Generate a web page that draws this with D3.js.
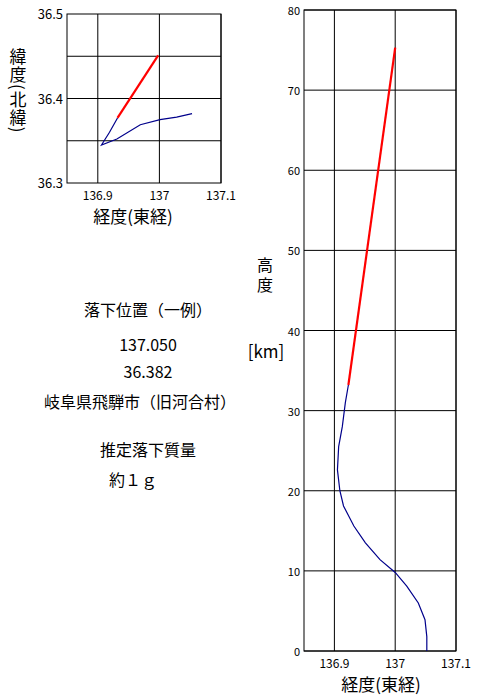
<!DOCTYPE html><html><head><meta charset="utf-8">
<script src="https://cdn.jsdelivr.net/npm/d3@7"></script>
<style>body{margin:0;background:#fff}text{font-family:"Noto Sans CJK JP",sans-serif}</style></head><body>
<svg id="c" width="480" height="700"></svg>
<script>
const lonTicks=[136.9,137,137.1];
const latTicks=[36.3,36.4,36.5];
const latGrid=[36.35,36.4,36.45];
const altTicks=[0,10,20,30,40,50,60,70,80];
// trajectory: longitude, latitude (map) ; longitude, altitude (profile)
const mapRedLon=[136.932,136.998];
const mapRedLat=[36.377,36.451];
const mapBlueLon=[136.932,136.919,136.906,136.931,136.969,137.001,137.028,137.053];
const mapBlueLat=[36.377,36.360,36.345,36.352,36.369,36.375,36.378,36.382];
const profRedLon=[136.923,137.0];
const profRedAlt=[33.2,75.3];
const profBlueLon=[136.923,136.918,136.913,136.907,136.905,136.909,136.915,136.932,136.951,136.975,137.0,137.019,137.038,137.049,137.052,137.052];
const profBlueAlt=[33.2,31,28,25.5,22.6,20,18.1,15.6,13.5,11.4,9.8,8.1,6.0,3.9,1.8,0];
const infoLines=["落下位置（一例）","137.050","36.382","岐阜県飛騨市（旧河合村）","推定落下質量","約１ｇ"];
const infoY=[310,345,372,402,450,480];

const svg=d3.select("#c");
function grid(g,x,y,xt,yt,ygrid,fmtY,fs){
  const [x0,x1]=x.range(),[y0,y1]=y.range();
  xt.forEach(t=>g.append("line").attr("x1",x(t)).attr("x2",x(t)).attr("y1",y0).attr("y2",y1).attr("stroke","#000"));
  ygrid.forEach(t=>g.append("line").attr("x1",x0).attr("x2",x1).attr("y1",y(t)).attr("y2",y(t)).attr("stroke","#000"));
  g.append("rect").attr("x",x0).attr("y",y1).attr("width",x1-x0).attr("height",y0-y1).attr("fill","none").attr("stroke","#000");
  xt.forEach(t=>g.append("text").attr("x",x(t)).attr("y",y0+17).attr("text-anchor","middle").attr("font-size",12).text(d3.format("")(t)));
  yt.forEach(t=>g.append("text").attr("x",x0-4).attr("y",y(t)+5).attr("text-anchor","end").attr("font-size",fs).text(fmtY(t)));
}
const line=(xs,ys,sx,sy)=>d3.line().x(i=>sx(xs[i])).y(i=>sy(ys[i]))(d3.range(xs.length));
// map
const mx=d3.scaleLinear().domain([136.85,137.1]).range([67,221]);
const my=d3.scaleLinear().domain([36.3,36.5]).range([183,14]);
const g1=svg.append("g");
grid(g1,mx,my,lonTicks,latTicks,latGrid,d3.format(".1f"),13);
g1.append("path").attr("d",line(mapBlueLon,mapBlueLat,mx,my)).attr("fill","none").attr("stroke","#00008b").attr("stroke-width",1.2);
g1.append("path").attr("d",line(mapRedLon,mapRedLat,mx,my)).attr("fill","none").attr("stroke","red").attr("stroke-width",2.2);
g1.append("text").attr("x",18).attr("y",48).attr("font-size",17).attr("writing-mode","vertical-rl").attr("letter-spacing",1).text("緯度(北緯)");
g1.append("text").attr("x",133).attr("y",223).attr("text-anchor","middle").attr("font-size",17).text("経度(東経)");
// profile
const px=d3.scaleLinear().domain([136.85,137.1]).range([304,456]);
const py=d3.scaleLinear().domain([0,80]).range([651,10]);
const g2=svg.append("g");
grid(g2,px,py,lonTicks,altTicks,altTicks,d3.format("d"),11);
g2.append("path").attr("d",line(profBlueLon,profBlueAlt,px,py)).attr("fill","none").attr("stroke","#00008b").attr("stroke-width",1.2);
g2.append("path").attr("d",line(profRedLon,profRedAlt,px,py)).attr("fill","none").attr("stroke","red").attr("stroke-width",2.2);
g2.append("text").attr("x",265).attr("y",271).attr("text-anchor","middle").attr("font-size",16).text("高");
g2.append("text").attr("x",265).attr("y",291).attr("text-anchor","middle").attr("font-size",16).text("度");
g2.append("text").attr("x",266).attr("y",358).attr("text-anchor","middle").attr("font-size",17).text("[km]");
g2.append("text").attr("x",381).attr("y",691).attr("text-anchor","middle").attr("font-size",17).text("経度(東経)");
// info
infoLines.forEach((t,i)=>svg.append("text").attr("x",i==5?133:(i==3?140:148)).attr("y",infoY[i]+6).attr("text-anchor","middle").attr("font-size",16).text(t));
</script></body></html>
